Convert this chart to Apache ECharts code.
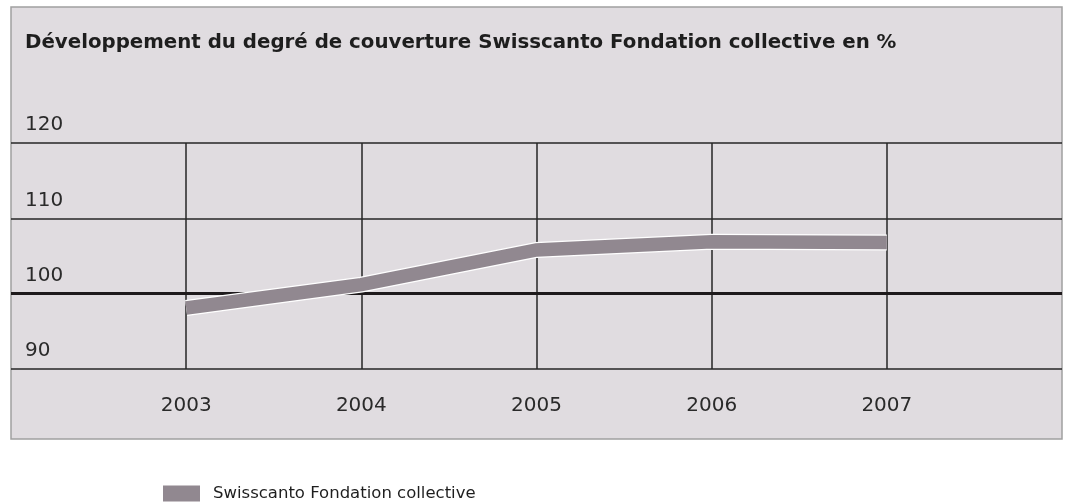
<!DOCTYPE html>
<html>
<head>
<meta charset="utf-8">
<script src="https://cdn.jsdelivr.net/npm/echarts@6/dist/echarts.min.js"></script>
<style>
  html, body { margin: 0; padding: 0; background: #ffffff; }
  #chart { width: 1070px; height: 504px; }
</style>
</head>
<body>
<div id="chart"></div>
<script>
// données
const titleText = 'Développement du degré de couverture Swisscanto Fondation collective en %';
const seriesName = 'Swisscanto Fondation collective';
const years = [2003, 2004, 2005, 2006, 2007];
const coverage = [98.1, 101.2, 105.8, 106.9, 106.8];
const yTicks = [90, 100, 110, 120];

const chartDom = document.getElementById('chart');
const myChart = echarts.init(chartDom);

const points = years.map((y, i) => [y, coverage[i]]);
const numFont = 'DejaVu Sans';

myChart.setOption({
  animation: false,
  backgroundColor: '#ffffff',
  title: {
    text: titleText,
    left: 25,
    top: 33,
    padding: 0,
    textStyle: { fontFamily: numFont, fontWeight: 'bold', fontSize: 19.8, color: '#1e1e1e' }
  },
  graphic: [
    {
      type: 'rect',
      z: -10,
      shape: { x: 11, y: 7, width: 1051, height: 432 },
      style: { fill: '#e0dce0', stroke: '#a0a0a0', lineWidth: 1.5 }
    }
  ],
  legend: {
    left: 163,
    top: 485,
    padding: 0,
    icon: 'rect',
    itemWidth: 37,
    itemHeight: 16,
    data: [seriesName],
    textStyle: { fontFamily: numFont, fontSize: 16.5, color: '#1e1e1e', padding: [0, 0, 8, 8] }
  },
  grid: { left: 11, right: 8, top: 143, bottom: 135, containLabel: false },
  xAxis: {
    type: 'value',
    min: 2002,
    max: 2008,
    interval: 1,
    axisLine: { show: false },
    axisTick: { show: false },
    axisLabel: {
      margin: 27,
      fontFamily: numFont,
      fontSize: 20,
      color: '#2a2a2a',
      formatter: v => (years.includes(v) ? String(v) : '')
    },
    splitLine: {
      show: true,
      showMinLine: false,
      showMaxLine: false,
      lineStyle: { color: '#262626', width: 1.5 }
    }
  },
  yAxis: {
    type: 'value',
    min: yTicks[0],
    max: yTicks[yTicks.length - 1],
    interval: 10,
    axisLine: { show: false },
    axisTick: { show: false },
    axisLabel: {
      inside: true,
      margin: 14,
      verticalAlign: 'bottom',
      padding: [0, 0, 8, 0],
      fontFamily: numFont,
      fontSize: 20,
      color: '#2a2a2a'
    },
    splitLine: { show: true, lineStyle: { color: '#262626', width: 1.5 } }
  },
  series: [
    {
      name: 'contour',
      type: 'line',
      data: points,
      symbol: 'none',
      silent: true,
      z: 3,
      lineStyle: { color: '#ffffff', width: 16, cap: 'butt', join: 'miter' },
      markLine: {
        silent: true,
        symbol: 'none',
        label: { show: false },
        lineStyle: { color: '#1e1a1c', width: 3, type: 'solid' },
        data: [{ yAxis: 100 }],
        z: 2
      }
    },
    {
      name: seriesName,
      type: 'line',
      data: points,
      symbol: 'none',
      z: 4,
      color: '#918890',
      lineStyle: { color: '#918890', width: 13.5, cap: 'butt', join: 'miter' }
    }
  ]
});
</script>
</body>
</html>
